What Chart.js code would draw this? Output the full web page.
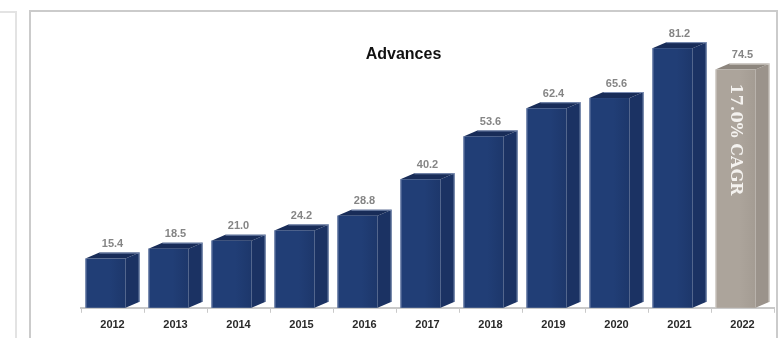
<!DOCTYPE html>
<html>
<head>
<meta charset="utf-8">
<script src="https://cdn.jsdelivr.net/npm/chart.js@4"></script>
<style>
  html, body { margin: 0; padding: 0; background: #fff; }
  #wrap { width: 781px; height: 338px; position: relative; }
</style>
</head>
<body>
<div id="wrap"><canvas id="advances"></canvas></div>
<script>
const years = ["2012", "2013", "2014", "2015", "2016", "2017", "2018", "2019", "2020", "2021", "2022"];
const advances = [15.4, 18.5, 21.0, 24.2, 28.8, 40.2, 53.6, 62.4, 65.6, 81.2, 74.5];
const cagrText = "17.0% CAGR";
const chartTitle = "Advances";

const navy = {front: "#213e76", shade: "#1d376b", side: "#1b3263", top: "#182c58", edge: "#7d8fb4"};
const grey = {front: "#aca49b", shade: "#a49c93", side: "#9b938b", top: "#8c857d", edge: "#dcd8d3"};

// panel frames around the chart
const frames = {
  id: "frames",
  beforeDraw(chart) {
    const ctx = chart.ctx;
    ctx.save();
    ctx.strokeStyle = "#e3e3e3";
    ctx.lineWidth = 2;
    ctx.beginPath();
    ctx.moveTo(0, 12);
    ctx.lineTo(16, 12);
    ctx.lineTo(16, 338);
    ctx.stroke();
    ctx.strokeStyle = "#cbcbcb";
    ctx.beginPath();
    ctx.moveTo(30, 338);
    ctx.lineTo(30, 11);
    ctx.lineTo(777, 11);
    ctx.lineTo(777, 338);
    ctx.stroke();
    ctx.restore();
  }
};

// 3D boxes built on top of each bar element
const prism = {
  id: "prism",
  afterDatasetsDraw(chart) {
    const ctx = chart.ctx;
    const bars = chart.getDatasetMeta(0).data;
    const depth = 14, rise = 6;
    ctx.save();
    bars.forEach((bar, i) => {
      const {x, y, base, width} = bar.getProps(["x", "y", "base", "width"], true);
      const pal = i === bars.length - 1 ? grey : navy;
      const left = x - width / 2;
      const right = left + width - depth;

      // side
      ctx.fillStyle = pal.side;
      ctx.beginPath();
      ctx.moveTo(right, y);
      ctx.lineTo(right + depth, y - rise);
      ctx.lineTo(right + depth, base - rise);
      ctx.lineTo(right, base);
      ctx.closePath();
      ctx.fill();

      // top
      ctx.fillStyle = pal.top;
      ctx.beginPath();
      ctx.moveTo(left, y);
      ctx.lineTo(left + depth, y - rise);
      ctx.lineTo(right + depth, y - rise);
      ctx.lineTo(right, y);
      ctx.closePath();
      ctx.fill();

      // front
      const g = ctx.createLinearGradient(left, 0, right, 0);
      g.addColorStop(0, pal.front);
      g.addColorStop(0.6, pal.front);
      g.addColorStop(1, pal.shade);
      ctx.fillStyle = g;
      ctx.fillRect(left, y, right - left, base - y);

      // light edges
      ctx.strokeStyle = pal.edge;
      ctx.lineWidth = 1;
      ctx.beginPath();
      ctx.moveTo(left + 0.5, base);
      ctx.lineTo(left + 0.5, y);
      ctx.moveTo(left + depth, y - rise + 0.5);
      ctx.lineTo(right + depth, y - rise + 0.5);
      ctx.moveTo(right + depth - 0.5, y - rise);
      ctx.lineTo(right + depth - 0.5, base - rise);
      ctx.stroke();

      // value above the box
      ctx.fillStyle = "#858585";
      ctx.font = "bold 11px 'Liberation Sans Narrow', 'Liberation Sans'";
      ctx.textAlign = "center";
      ctx.textBaseline = "bottom";
      ctx.fillText(advances[i].toFixed(1), x, y - rise - 3);

      if (i === bars.length - 1) {
        ctx.save();
        ctx.translate((left + right) / 2, y + 14);
        ctx.rotate(Math.PI / 2);
        ctx.fillStyle = "#f4f2ef";
        ctx.font = "bold 16px 'DejaVu Serif'";
        ctx.textAlign = "left";
        ctx.textBaseline = "middle";
        ctx.fillText(cagrText, 0, 0);
        ctx.restore();
      }
    });

    const area = chart.chartArea;
    ctx.fillStyle = "#111";
    ctx.font = "bold 16px 'Liberation Sans'";
    ctx.textAlign = "center";
    ctx.textBaseline = "middle";
    ctx.fillText(chartTitle, (area.left + area.right) / 2 - 24, 55);
    ctx.restore();
  }
};

new Chart(document.getElementById("advances"), {
  type: "bar",
  data: {
    labels: years,
    datasets: [
      {
        label: chartTitle,
        data: advances,
        backgroundColor: "rgba(0,0,0,0)",
        borderWidth: 0,
        categoryPercentage: 1,
        barPercentage: 0.86,
      }
    ],
  },
  options: {
    responsive: true,
    maintainAspectRatio: false,
    animation: false,
    layout: {padding: {left: 81, right: 7, top: 20, bottom: 0}},
    plugins: {
      legend: {display: false},
      tooltip: {enabled: false},
    },
    scales: {
      x: {
        grid: {display: true, drawOnChartArea: false, tickLength: 5, color: "#c9c9c9", lineWidth: 1},
        border: {color: "#c9c9c9", width: 2},
        ticks: {color: "#2a2a2a", padding: 6, font: {family: "'Liberation Sans Narrow', 'Liberation Sans'", size: 11, weight: "bold"}},
      },
      y: {display: false, min: 0, max: 90},
    },
  },
  plugins: [frames, prism],
});
</script>
</body>
</html>
